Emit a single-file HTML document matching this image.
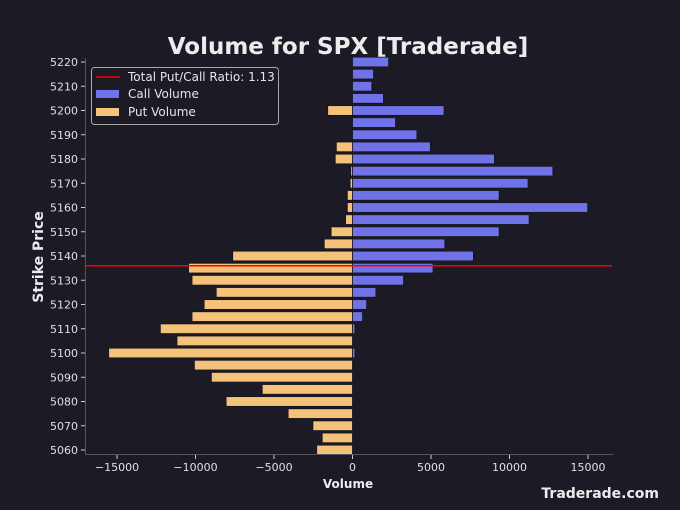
<!DOCTYPE html>
<html><head><meta charset="utf-8"><style>
html,body{margin:0;padding:0;background:#1b1a25;}
svg{display:block;font-family:"DejaVu Sans","Liberation Sans",sans-serif;}
</style></head><body>
<svg id="chart" width="680" height="510">
<rect width="680" height="510" fill="#1b1a25"/>
<text x="348" y="54" text-anchor="middle" font-size="23" font-weight="bold" fill="#ececec">Volume for SPX [Traderade]</text>
<g id="bars"></g>
<g id="axes"></g>
<text transform="translate(43,257) rotate(-90)" text-anchor="middle" font-size="14" font-weight="bold" fill="#ececec">Strike Price</text>
<text x="348" y="488" text-anchor="middle" font-size="12" font-weight="bold" fill="#ececec">Volume</text>
<text x="659" y="498" text-anchor="end" font-size="14" font-weight="bold" fill="#ececec">Traderade.com</text>
<g>
<rect x="91.5" y="67.5" width="187" height="57" rx="3" fill="#1b1a25" stroke="#aaa"/>
<line x1="96" y1="77" x2="120" y2="77" stroke="#ff0000" stroke-width="1.5"/>
<text x="128" y="81" font-size="12" fill="#e6e6e6">Total Put/Call Ratio: 1.13</text>
<rect x="96" y="90" width="23" height="8" fill="#7073e8"/>
<text x="128" y="98" font-size="12" fill="#e6e6e6">Call Volume</text>
<rect x="96" y="108" width="23" height="8" fill="#f5c27a"/>
<text x="128" y="116" font-size="12" fill="#e6e6e6">Put Volume</text>
</g>
</svg>
<script>
const strikes=[5220,5215,5210,5205,5200,5195,5190,5185,5180,5175,5170,5165,5160,5155,5150,5145,5140,5135,5130,5125,5120,5115,5110,5105,5100,5095,5090,5085,5080,5075,5070,5065,5060];
const callVolume=[2300,1340,1230,1970,5830,2740,4100,4960,9040,12760,11180,9340,14980,11250,9340,5880,7700,5130,3250,1490,900,640,150,0,150,50,0,0,0,0,0,0,0];
const putVolume=[0,0,0,0,-1580,0,0,-1030,-1100,-110,-150,-330,-330,-440,-1360,-1800,-7630,-10440,-10220,-8680,-9450,-10220,-12240,-11180,-15530,-10070,-8990,-5750,-8050,-4100,-2520,-1930,-2280];
const ratioStrike=5136;
const xTicks=[-15000,-10000,-5000,0,5000,10000,15000];
const yTicks=[5220,5210,5200,5190,5180,5170,5160,5150,5140,5130,5120,5110,5100,5090,5080,5070,5060];
const NS='http://www.w3.org/2000/svg';
const x=v=>352.5+v*78.5/5000;
const y=s=>62+(5220-s)*388/160;
const bh=9.7;
const bars=document.getElementById('bars'),axes=document.getElementById('axes');
function mk(tag,a,p){const e=document.createElementNS(NS,tag);for(const k in a)e.setAttribute(k,a[k]);p.appendChild(e);return e;}
strikes.forEach((s,i)=>{
 const c=callVolume[i],p=putVolume[i];
 if(c>0){const r=mk('rect',{x:x(0),y:y(s)-bh/2,width:x(c)-x(0),height:bh,fill:'#7073e8',stroke:'#15141e','stroke-width':0.8},bars);
 
 }
 if(p<0){const r=mk('rect',{x:x(p),y:y(s)-bh/2,width:x(0)-x(p),height:bh,fill:'#f5c27a',stroke:'#15141e','stroke-width':0.8},bars);
 
 }
});
const rl=mk('line',{x1:85,x2:612,y1:y(ratioStrike),y2:y(ratioStrike),stroke:'#ff0000','stroke-width':1.5},bars);


mk('line',{x1:85.5,x2:85.5,y1:58,y2:454.5,stroke:'#555566'},axes);
mk('line',{x1:85,x2:613,y1:454.5,y2:454.5,stroke:'#555566'},axes);
xTicks.forEach(v=>{
 mk('line',{x1:x(v),x2:x(v),y1:455,y2:459,stroke:'#ccc'},axes);
 const t=mk('text',{x:x(v),y:471,'text-anchor':'middle','font-size':11,fill:'#e0e0e0'},axes);
 t.textContent=v<0?'\u2212'+Math.abs(v):String(v);
 
 
});
yTicks.forEach(s=>{
 mk('line',{x1:81,x2:85,y1:y(s),y2:y(s),stroke:'#ccc'},axes);
 const t=mk('text',{x:78,y:y(s)+4,'text-anchor':'end','font-size':11,fill:'#e0e0e0'},axes);
 t.textContent=String(s);
 
 
});
</script>
</body></html>
